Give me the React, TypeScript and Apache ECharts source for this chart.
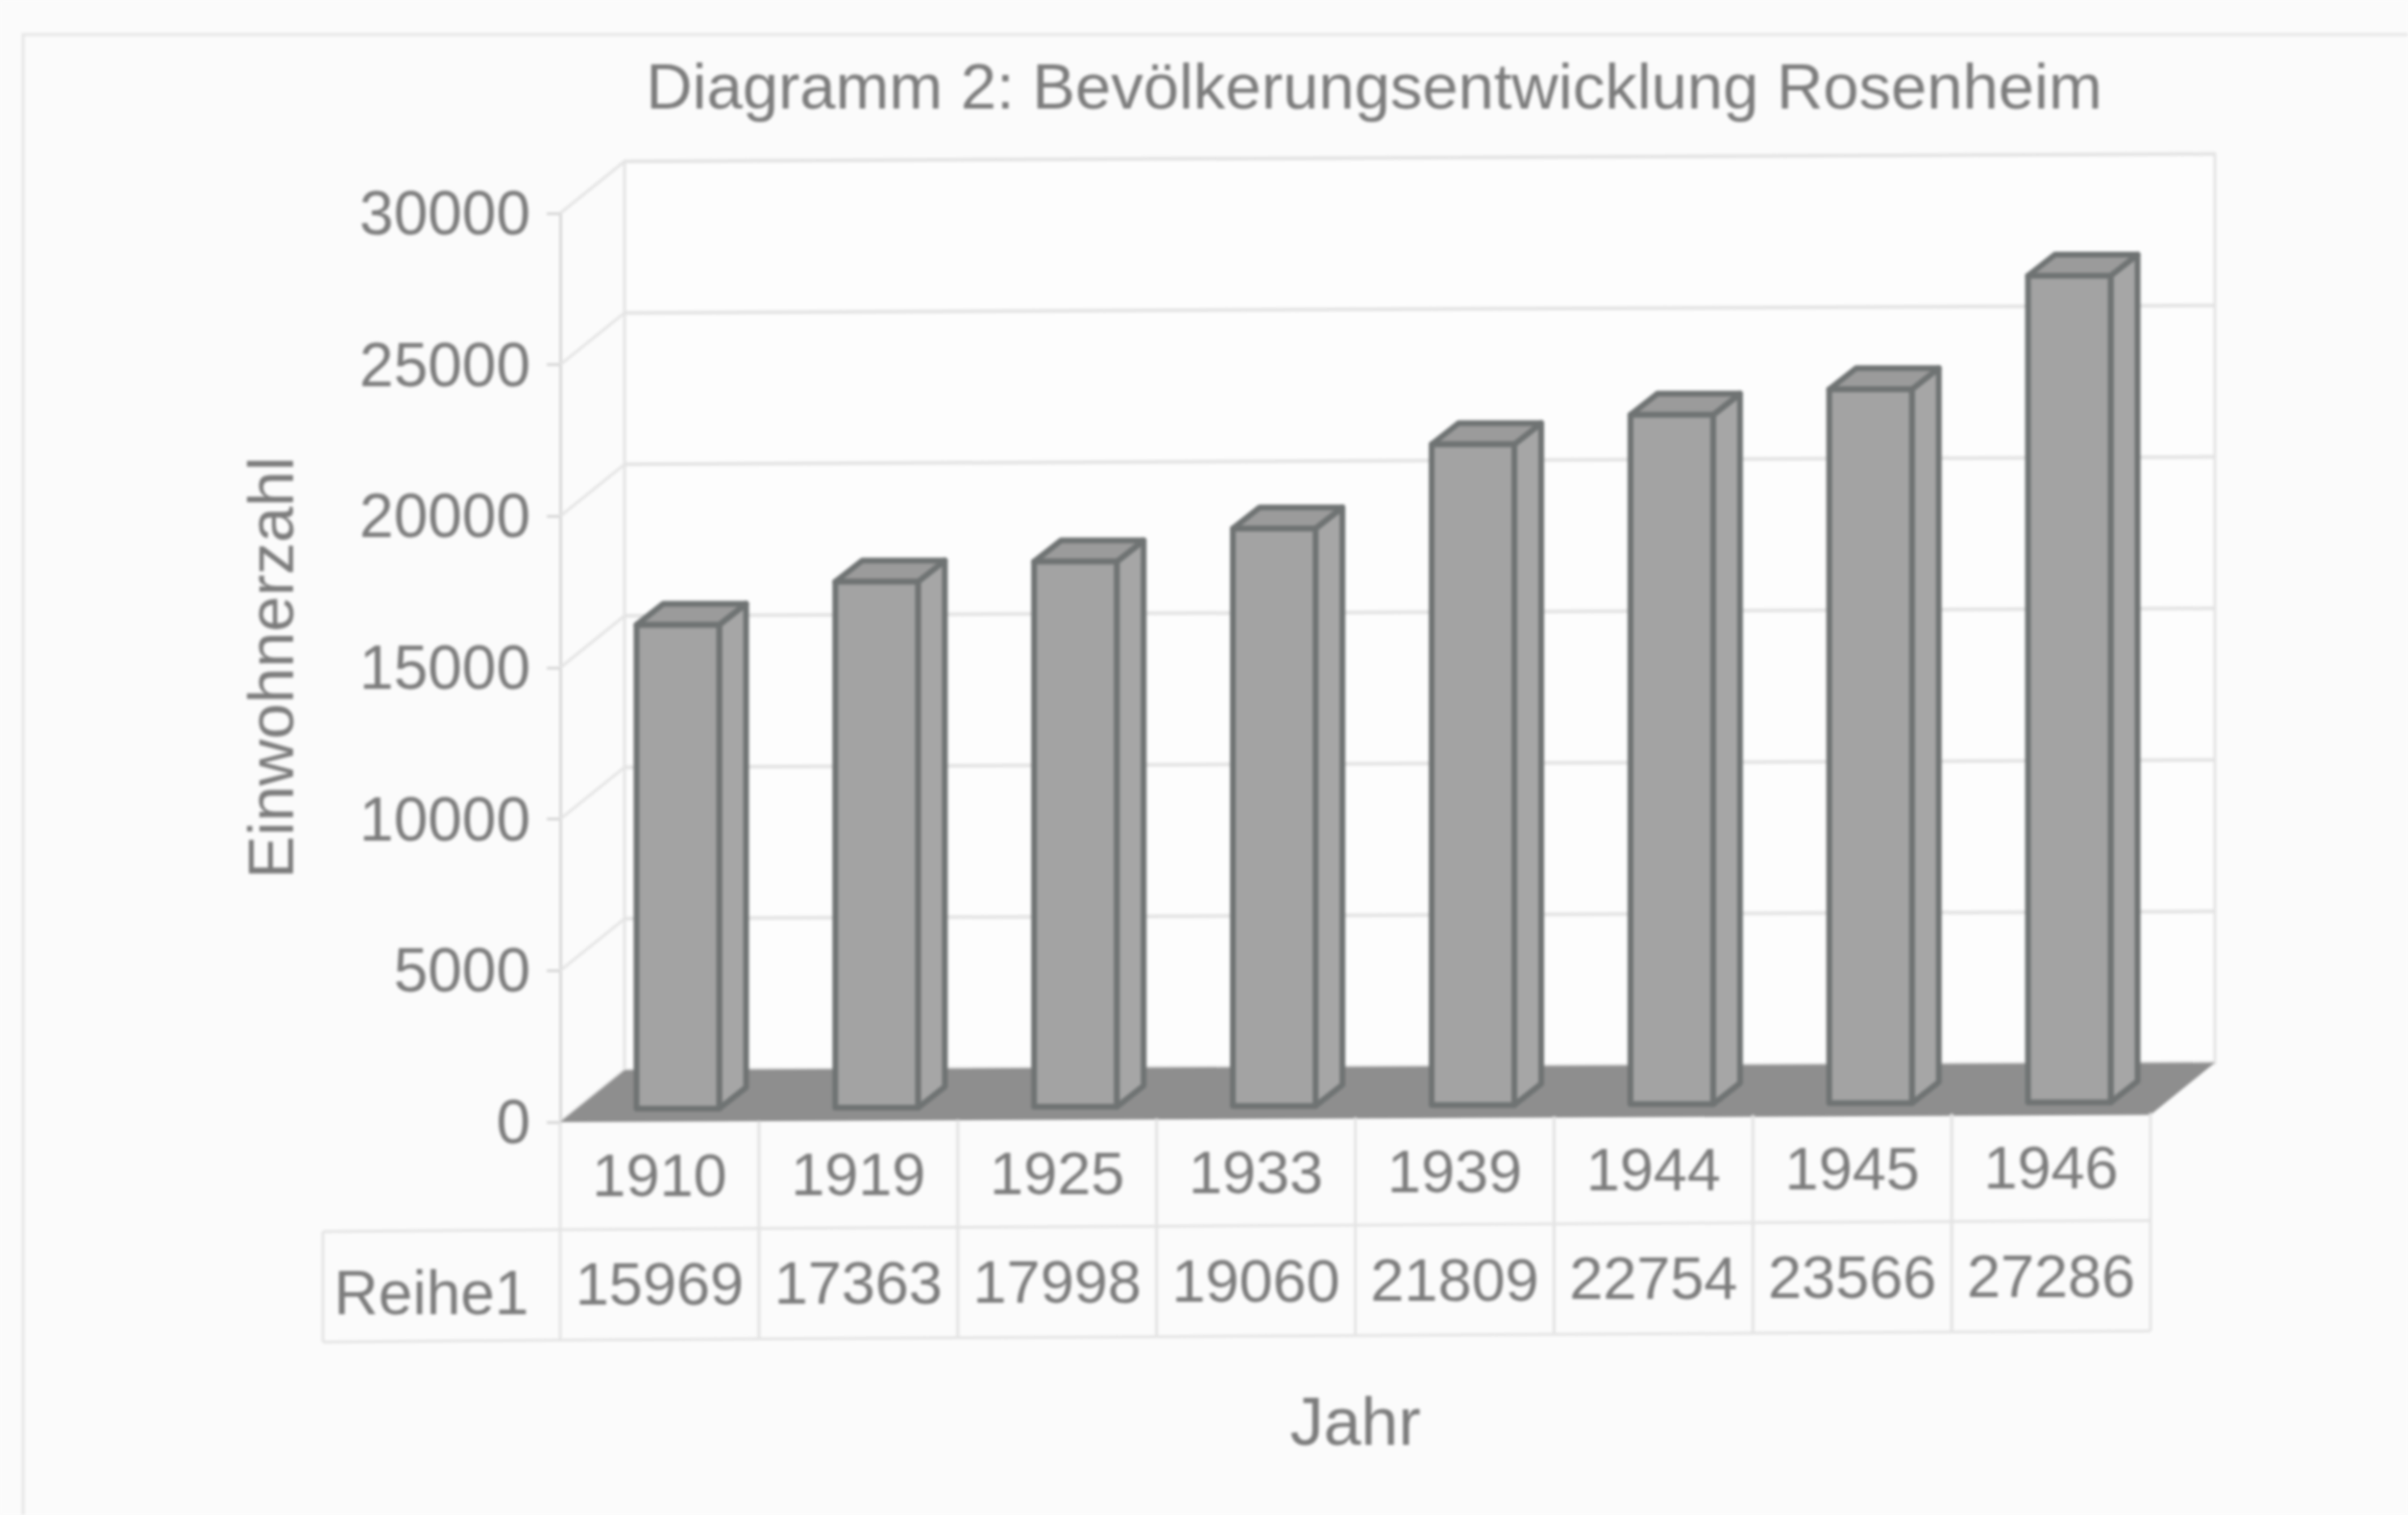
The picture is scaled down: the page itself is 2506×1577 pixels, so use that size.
import React, { useEffect, useRef } from "react";
import * as echarts from "echarts";

const chartTitle = "Diagramm 2: Bevölkerungsentwicklung Rosenheim";
const xName = "Jahr";
const yName = "Einwohnerzahl";
const seriesName = "Reihe1";
const years = ["1910", "1919", "1925", "1933", "1939", "1944", "1945", "1946"];
const population = [15969, 17363, 17998, 19060, 21809, 22754, 23566, 27286];
const yTicks = [30000, 25000, 20000, 15000, 10000, 5000, 0];

const FONT = "Liberation Sans, Arial, sans-serif";
const TEXT = "#7c7c7c";
const LINE = "#e4e4e4";
const EDGE = "#6f7373";
const DX = 67;
const DY = -54;
const X0 = 583;
const tilt = (x: number) => -(x - X0) * 0.0045;
const tiltT = (x: number) => -(x - X0) * 0.0058;

export default function App() {
  const ref = useRef<HTMLDivElement>(null);
  useEffect(() => {
    document.body.style.margin = "0";
    document.body.style.background = "#fbfbfb";
    const chart = echarts.init(ref.current!, null, { renderer: "svg" });
    const lineStyle = (w: number, c: string) => ({ stroke: c, lineWidth: w, fill: "none" });
    chart.setOption({
      animation: false,
      backgroundColor: "#fbfbfb",
      title: {
        text: chartTitle,
        left: 1425,
        top: 51,
        textAlign: "center",
        textStyle: { fontFamily: FONT, fontSize: 67, fontWeight: "normal", color: TEXT },
      },
      grid: { left: X0, top: 222, width: 1655, height: 946, containLabel: false },
      xAxis: {
        type: "category",
        data: years,
        name: xName,
        nameLocation: "middle",
        nameGap: 277,
        nameTextStyle: { fontFamily: FONT, fontSize: 70, color: TEXT },
        axisLine: { show: false },
        axisTick: { show: false },
        axisLabel: { show: false },
      },
      yAxis: {
        type: "value",
        min: 0,
        max: 30000,
        interval: 5000,
        name: yName,
        nameLocation: "middle",
        nameGap: 268,
        nameRotate: 90,
        nameTextStyle: { fontFamily: FONT, fontSize: 67, color: TEXT },
        axisLine: { show: true, lineStyle: { color: "#d8d8d8", width: 3 } },
        axisTick: { show: true, length: 14, lineStyle: { color: "#d8d8d8", width: 3 } },
        axisLabel: {
          margin: 31,
          fontFamily: FONT,
          fontSize: 64,
          color: TEXT,
          formatter: (v: number) => String(v),
        },
        splitLine: { show: false },
      },
      graphic: [
        {
          type: "polyline",
          silent: true,
          z: 0,
          shape: { points: [[24, 1577], [24, 36], [2506, 36]] },
          style: { stroke: "#e6e6e6", lineWidth: 3, fill: "none" },
        },
      ],
      series: [
        {
          type: "custom",
          z: 1,
          data: yTicks.map((v) => [0, v]),
          renderItem: (_: any, api: any) => {
            const v = api.value(1);
            const y = api.coord([0, v])[1];
            const xL = X0 + DX;
            const xR = 2238 + DX;
            const dyTilt = tilt(xR);
            const children: any[] = [];
            if (v === 30000) {
              const yb = api.coord([0, 0])[1];
              children.push({
                type: "polygon",
                shape: { points: [[xL, y + DY], [xR, y + DY + dyTilt], [xR, yb + DY + dyTilt], [xL, yb + DY]] },
                style: { fill: "#fdfdfd", stroke: LINE, lineWidth: 3 },
              });
            }
            children.push(
              { type: "line", shape: { x1: X0, y1: y, x2: xL, y2: y + DY }, style: lineStyle(3, LINE) },
              { type: "line", shape: { x1: xL, y1: y + DY, x2: xR, y2: y + DY + dyTilt }, style: lineStyle(4, LINE) }
            );
            if (v === 0) {
              children.push({
                type: "polygon",
                shape: {
                  points: [
                    [X0, y],
                    [X0 + DX, y + DY],
                    [xR, y + DY + dyTilt],
                    [2238, y + tilt(2238)],
                  ],
                },
                style: { fill: "#8e8e8e" },
              });
            }
            return { type: "group", children };
          },
        },
        {
          type: "custom",
          z: 2,
          data: population.map((v, i) => [i, v]),
          renderItem: (_: any, api: any) => {
            const p = api.coord([api.value(0), api.value(1)]);
            const base = api.coord([api.value(0), 0]);
            const band = api.size([1, 0])[0];
            const w = band * 0.416;
            const cx = p[0] + 19;
            const l = cx - w / 2;
            const r = cx + w / 2;
            const off = -13.5 + tilt(cx);
            const t = p[1] + off;
            const b = base[1] + off;
            const dx = 28;
            const dy = -22;
            const stroke = { stroke: EDGE, lineWidth: 6, lineJoin: "round" };
            return {
              type: "group",
              children: [
                {
                  type: "polygon",
                  shape: { points: [[r, t], [r + dx, t + dy], [r + dx, b + dy], [r, b]] },
                  style: { fill: "#a6a6a6", ...stroke },
                },
                {
                  type: "polygon",
                  shape: { points: [[l, t], [l + dx, t + dy], [r + dx, t + dy], [r, t]] },
                  style: { fill: "#9b9b9b", ...stroke },
                },
                {
                  type: "polygon",
                  shape: { points: [[l, t], [r, t], [r, b], [l, b]] },
                  style: { fill: "#a3a3a3", ...stroke },
                },
              ],
            };
          },
        },
        {
          type: "custom",
          z: 3,
          data: population.map((v, i) => [i, v]),
          renderItem: (_: any, api: any) => {
            const i = api.value(0);
            const p = api.coord([i, 0]);
            const band = api.size([1, 0])[0];
            const cx = p[0];
            const y0 = p[1];
            const xl = cx - band / 2;
            const xr = cx + band / 2;
            const row1 = 112;
            const row2 = 227;
            const text = (s: string, x: number, y: number) => ({
              type: "text",
              style: { text: s, x, y, align: "center", verticalAlign: "middle", fontFamily: FONT, fontSize: 63, fill: TEXT },
            });
            const children: any[] = [
              { type: "line", shape: { x1: xl, y1: y0 + tiltT(xl), x2: xl, y2: y0 + row2 + tiltT(xl) }, style: lineStyle(3, LINE) },
              { type: "line", shape: { x1: xr, y1: y0 + tiltT(xr), x2: xr, y2: y0 + row2 + tiltT(xr) }, style: lineStyle(3, LINE) },
              { type: "line", shape: { x1: xl, y1: y0 + row1 + tiltT(xl), x2: xr, y2: y0 + row1 + tiltT(xr) }, style: lineStyle(3, LINE) },
              { type: "line", shape: { x1: xl, y1: y0 + row2 + tiltT(xl), x2: xr, y2: y0 + row2 + tiltT(xr) }, style: lineStyle(3, LINE) },
              text(years[i], cx, y0 + 56 + tiltT(cx)),
              text(String(api.value(1)), cx, y0 + 169 + tiltT(cx)),
            ];
            if (i === 0) {
              const xh = xl - 247;
              children.push(
                { type: "line", shape: { x1: xh, y1: y0 + row1 + 2, x2: xl, y2: y0 + row1 }, style: lineStyle(3, LINE) },
                { type: "line", shape: { x1: xh, y1: y0 + row2 + 2, x2: xl, y2: y0 + row2 }, style: lineStyle(3, LINE) },
                { type: "line", shape: { x1: xh, y1: y0 + row1 + 2, x2: xh, y2: y0 + row2 + 2 }, style: lineStyle(3, LINE) },
                { ...text(seriesName, xl - 134, y0 + 178), style: { ...text(seriesName, xl - 134, y0 + 178).style, fontSize: 64 } }
              );
            }
            return { type: "group", children };
          },
        },
      ],
    });
    return () => chart.dispose();
  }, []);
  return (
    <div
      ref={ref}
      style={{ position: "fixed", left: 0, top: 0, width: 2506, height: 1577, filter: "blur(1.6px)" }}
    />
  );
}
